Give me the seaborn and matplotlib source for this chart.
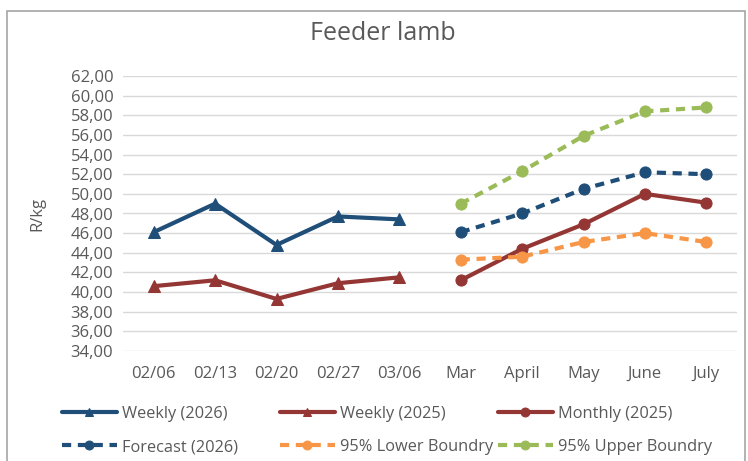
import matplotlib
matplotlib.use("Agg")
import matplotlib.pyplot as plt
import seaborn as sns
import pandas as pd
from matplotlib.patches import Rectangle
from matplotlib.ticker import FuncFormatter, MultipleLocator

weeks = ["02/06", "02/13", "02/20", "02/27", "03/06"]
months = ["Mar", "April", "May", "June", "July"]
weekly_2026 = [46.1, 49.0, 44.8, 47.7, 47.4]
weekly_2025 = [40.6, 41.2, 39.3, 40.9, 41.5]
monthly_2025 = [41.2, 44.4, 46.9, 50.0, 49.1]
forecast_2026 = [46.1, 48.0, 50.5, 52.2, 52.0]
lower_95 = [43.3, 43.6, 45.1, 46.0, 45.1]
upper_95 = [49.0, 52.3, 55.9, 58.4, 58.8]

BLUE = "#1F4E79"
RED = "#943634"
ORANGE = "#F79646"
GREEN = "#9BBB59"
TXT = "#595959"

sns.set_theme(style="white")
plt.rcParams["font.family"] = ["Open Sans", "DejaVu Sans"]

W, H = 748, 461
fig = plt.figure(figsize=(W / 100, H / 100), dpi=100)
ax = fig.add_axes([123 / W, 1 - 351 / H, (737 - 123) / W, (351 - 76) / H])

lw = 3.0
ms = 8
dash = (0, (2.2, 1.6))

series = [
    ("Weekly (2026)", weeks, weekly_2026, BLUE, "^", "-"),
    ("Weekly (2025)", weeks, weekly_2025, RED, "^", "-"),
    ("Monthly (2025)", months, monthly_2025, RED, "o", "-"),
    ("Forecast (2026)", months, forecast_2026, BLUE, "o", dash),
    ("95% Lower Boundry", months, lower_95, ORANGE, "o", dash),
    ("95% Upper Boundry", months, upper_95, GREEN, "o", dash),
]

for name, xs, ys, col, mk, ls in series:
    df = pd.DataFrame({"x": xs, "y": ys})
    sns.lineplot(data=df, x="x", y="y", ax=ax, color=col, marker=mk,
                 markersize=ms, linewidth=lw, linestyle=ls, sort=False,
                 markeredgecolor=col, label=name)

ax.set_ylim(34, 62)
ax.set_xlim(-0.5, 9.5)
ax.yaxis.set_major_locator(MultipleLocator(2))
ax.yaxis.set_major_formatter(FuncFormatter(lambda v, p: f"{v:.2f}".replace(".", ",")))
ax.grid(axis="y", color="#D9D9D9", linewidth=1)
ax.set_axisbelow(True)
for s in ax.spines.values():
    s.set_visible(False)
ax.tick_params(axis="y", colors=TXT, labelsize=12, length=0, pad=7)
ax.tick_params(axis="x", colors=TXT, labelsize=12, length=0, pad=11)
ax.set_xlabel("")
ax.set_ylabel("R/kg", color=TXT, fontsize=12)
ax.yaxis.set_label_coords((45 - 123) / 614, 0.5)

fig.text(383 / W, 1 - 34 / H, "Feeder lamb", ha="center", va="center",
         color=TXT, fontsize=18)

h, l = ax.get_legend_handles_labels()
ax.get_legend().remove()
cols_x = [62, 280, 498]
groups = [[0, 3], [1, 4], [2, 5]]
for cx, g in zip(cols_x, groups):
    fig.legend([h[i] for i in g], [l[i] for i in g], ncol=1,
               loc="upper left", bbox_to_anchor=(cx / W, 1 - 406 / H),
               frameon=False, fontsize=11.8, labelcolor=TXT,
               handlelength=3.35, handletextpad=0.3, borderpad=0,
               borderaxespad=0, labelspacing=1.05, markerscale=0.8)

fig.patches.append(Rectangle((7 / W, -0.05), (745 - 7) / W, 1 - 11 / H + 0.05,
                             transform=fig.transFigure, fill=False,
                             edgecolor="#A6A6A6", linewidth=1.2))

fig.savefig("out.png", dpi=100)
